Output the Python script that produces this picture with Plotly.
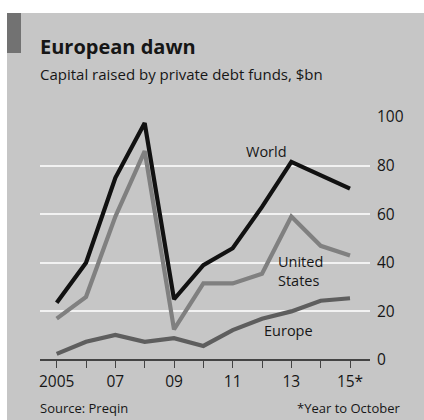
import plotly.graph_objects as go

years = list(range(2005, 2016))
world = [23.6, 40, 75, 97.5, 25, 39, 46, 63, 81.5, 76, 70.5]
united_states = [17, 26, 59, 86, 12.6, 31.5, 31.5, 35.5, 59, 47, 43]
europe = [2.5, 7.5, 10.3, 7.5, 9, 5.8, 12.3, 17, 20, 24.4, 25.4]
xtick_vals = years
xtick_text = ["2005", "", "07", "", "09", "", "11", "", "13", "", "15*"]
ytick_vals = [0, 20, 40, 60, 80, 100]

W, H = 424, 420
L, R, T, B = 40, 370, 117, 360  # plot area in pixels

def px(x):
    return (x - L) / (R - L)

def py(y):
    return (B - y) / (B - T)

FONT = "Open Sans"
BG = "#c6c6c6"
TXT = "#161616"

fig = go.Figure()
fig.add_trace(go.Scatter(x=years, y=europe, mode="lines",
                         line=dict(color="#5e5e5e", width=4.2), hoverinfo="skip"))
fig.add_trace(go.Scatter(x=years, y=united_states, mode="lines",
                         line=dict(color="#808080", width=4.2), hoverinfo="skip"))
fig.add_trace(go.Scatter(x=years, y=world, mode="lines",
                         line=dict(color="#111111", width=4.2), hoverinfo="skip"))

shapes = [
    # white margins outside the printed panel
    dict(type="rect", xref="paper", yref="paper", x0=px(-5), x1=px(430), y0=py(13), y1=py(-5),
         fillcolor="white", line=dict(width=0), layer="below"),
    dict(type="rect", xref="paper", yref="paper", x0=px(-5), x1=px(7), y0=py(425), y1=py(-5),
         fillcolor="white", line=dict(width=0), layer="below"),
    # accent bar
    dict(type="rect", xref="paper", yref="paper", x0=px(7), x1=px(21), y0=py(53), y1=py(13),
         fillcolor="#727272", line=dict(width=0)),
]

annotations = [
    dict(text="<b>European dawn</b>", x=px(38), y=py(46), xanchor="left", yanchor="middle",
         font=dict(family=FONT, size=20, color=TXT)),
    dict(text="Capital raised by private debt funds, $bn", x=px(38), y=py(74), xanchor="left",
         yanchor="middle", font=dict(family=FONT, size=15, color=TXT)),
    dict(text="Source: Preqin", x=px(38), y=py(408), xanchor="left", yanchor="middle",
         font=dict(family=FONT, size=13, color=TXT)),
    dict(text="*Year to October", x=px(403), y=py(408), xanchor="right", yanchor="middle",
         font=dict(family=FONT, size=13, color=TXT)),
]
for a in annotations:
    a.update(xref="paper", yref="paper", showarrow=False)

labels = [
    dict(text="World", x=2012.14, y=86, align="center"),
    dict(text="United<br>States", x=2013.3, y=36.5, align="left"),
    dict(text="Europe", x=2012.9, y=12, align="center"),
]
for a in labels:
    a.update(xref="x", yref="y", showarrow=False, xanchor="center", yanchor="middle",
             font=dict(family=FONT, size=14.5, color=TXT))
    annotations.append(a)

fig.update_layout(
    width=W, height=H,
    margin=dict(l=L, r=W - R, t=T, b=H - B, pad=0),
    paper_bgcolor=BG, plot_bgcolor=BG,
    showlegend=False,
    shapes=shapes, annotations=annotations,
    xaxis=dict(range=[2005 - (56.7 - L) / 29.33, 2015 + (R - 350) / 29.33],
               tickmode="array", tickvals=xtick_vals, ticktext=xtick_text,
               ticks="outside", ticklen=7, tickwidth=1.2, tickcolor="#444",
               showgrid=False, zeroline=False, showline=False,
               tickfont=dict(family=FONT, size=15.5, color=TXT), automargin=False),
    yaxis=dict(range=[0, 100], side="right", tickmode="array", tickvals=ytick_vals,
               showgrid=True, gridcolor="#f2f2f2", gridwidth=2,
               zeroline=True, zerolinecolor="#444", zerolinewidth=1.5,
               showline=False, ticks="", ticklabelstandoff=6,
               tickfont=dict(family=FONT, size=15.5, color=TXT), automargin=False),
)

fig.write_html("out.html")
